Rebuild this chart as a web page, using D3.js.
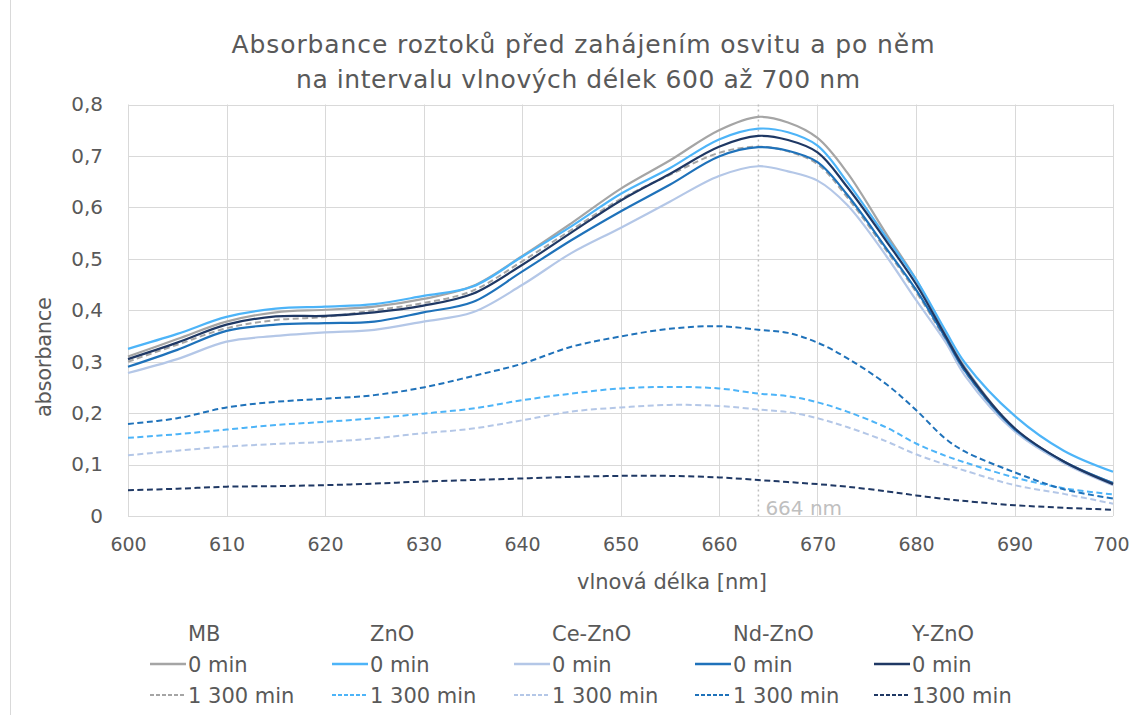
<!DOCTYPE html>
<html><head><meta charset="utf-8">
<script src="https://cdn.jsdelivr.net/npm/d3@7"></script>
<style>
html,body{margin:0;padding:0;background:#fff;}
</style></head>
<body>
<svg id="chart" width="1131" height="715"></svg>
<script>
const wavelengths = [600,605,610,615,620,625,630,635,640,645,650,655,660,664,667,670,673,677,680,683,685,690,695,700];
const mb0    = [.310,.344,.378,.396,.401,.407,.422,.447,.505,.569,.636,.691,.750,.776,.765,.735,.668,.548,.460,.353,.288,.170,.106,.064];
const mb1300 = [.300,.333,.365,.381,.387,.400,.414,.438,.495,.556,.616,.663,.706,.718,.709,.684,.620,.516,.436,.343,.280,.167,.104,.062];
const zno0   = [.325,.354,.387,.403,.407,.412,.428,.446,.504,.563,.626,.676,.732,.753,.746,.720,.650,.541,.460,.360,.297,.195,.127,.086];
const zno1300= [.152,.159,.168,.177,.183,.190,.199,.209,.225,.238,.248,.251,.248,.238,.233,.221,.203,.172,.141,.117,.104,.075,.054,.042];
const ce0    = [.278,.305,.339,.350,.357,.362,.378,.396,.449,.511,.560,.611,.661,.680,.670,.652,.605,.505,.420,.338,.272,.165,.103,.060];
const ce1300 = [.118,.127,.135,.140,.144,.151,.161,.170,.186,.203,.211,.216,.214,.207,.202,.190,.173,.145,.120,.100,.088,.060,.043,.024];
const nd0    = [.290,.323,.360,.372,.375,.378,.396,.416,.475,.536,.592,.644,.699,.717,.710,.688,.625,.520,.440,.346,.281,.169,.106,.064];
const nd1300 = [.179,.190,.211,.222,.228,.235,.250,.272,.296,.329,.349,.364,.369,.362,.356,.337,.307,.256,.206,.150,.125,.085,.052,.034];
const y0     = [.305,.337,.372,.388,.389,.396,.409,.432,.488,.551,.613,.665,.718,.739,.731,.707,.640,.534,.451,.350,.285,.171,.106,.062];
const y1300  = [.050,.053,.057,.058,.060,.063,.067,.070,.073,.076,.078,.078,.075,.070,.066,.062,.057,.048,.040,.033,.029,.021,.016,.012];

const groups = ["MB","ZnO","Ce-ZnO","Nd-ZnO","Y-ZnO"];
const rowLabels0 = ["0 min","0 min","0 min","0 min","0 min"];
const rowLabels1 = ["1 300 min","1 300 min","1 300 min","1 300 min","1300 min"];
const colors = ["#A5A5A5","#4DB4F8","#B4C7E7","#1F72BA","#1F3864"];
const seriesSolid = [mb0,zno0,ce0,nd0,y0];
const seriesDash = [mb1300,zno1300,ce1300,nd1300,y1300];
const xTicks = [600,610,620,630,640,650,660,670,680,690,700];
const yTicks = [0,0.1,0.2,0.3,0.4,0.5,0.6,0.7,0.8];
const peak = 664;
const titleLines = ["Absorbance roztoků před zahájením osvitu a po něm","na intervalu vlnových délek 600 až 700 nm"];

const FONT = "'DejaVu Sans', sans-serif";
const TXT = "#595959";
const svg = d3.select("#chart");
const L = 128, R = 1113, T = 104.5, B = 516;
const x = d3.scaleLinear().domain([600,700]).range([L,R]);
const y = d3.scaleLinear().domain([0,0.8]).range([B,T]);

// outer border
svg.append("line").attr("x1",10.5).attr("x2",10.5).attr("y1",0).attr("y2",715).attr("stroke","#D9D9D9");

// gridlines
const g = svg.append("g");
g.selectAll(".hg").data(yTicks).join("line")
  .attr("x1",L).attr("x2",R).attr("y1",d=>Math.round(y(d))+0.5).attr("y2",d=>Math.round(y(d))+0.5)
  .attr("stroke","#D9D9D9").attr("stroke-width",1);
g.selectAll(".vg").data(xTicks).join("line")
  .attr("y1",T).attr("y2",B).attr("x1",d=>Math.round(x(d))+0.5).attr("x2",d=>Math.round(x(d))+0.5)
  .attr("stroke","#D9D9D9").attr("stroke-width",1);

// axes via d3 (labels only)
const fmt = d => d===0 ? "0" : d3.format(".1f")(d).replace(".",",");
const yAxis = svg.append("g").attr("transform",`translate(${L},0)`)
  .call(d3.axisLeft(y).tickValues(yTicks).tickFormat(fmt).tickSize(0).tickPadding(25));
yAxis.attr("font-family",null).attr("font-size",null);
yAxis.select(".domain").remove();
yAxis.selectAll("text").style("font-family",FONT).style("font-size","20px").style("fill",TXT);
const xAxis = svg.append("g").attr("transform",`translate(0,${B})`)
  .call(d3.axisBottom(x).tickValues(xTicks).tickSize(0).tickPadding(22));
xAxis.attr("font-family",null).attr("font-size",null);
xAxis.select(".domain").remove();
xAxis.selectAll("text").style("font-family",FONT).style("font-size","19px").style("fill",TXT);
xAxis.selectAll("text").filter(d=>d===700).attr("dx","-2");

// peak line
svg.append("line").attr("x1",x(peak)).attr("x2",x(peak)).attr("y1",T).attr("y2",B)
  .attr("stroke","#BFBFBF").attr("stroke-width",1.5).attr("stroke-dasharray","2,3");
svg.append("text").attr("x",x(peak)+7).attr("y",B-1).text(peak+" nm")
  .style("font-family",FONT).style("font-size","20px").style("fill","#BFBFBF");

// series
const line = d3.line().x((d,i)=>x(wavelengths[i])).y(d=>y(d)).curve(d3.curveCatmullRom.alpha(0.5));
const sg = svg.append("g");
for (let k=0;k<5;k++){
  sg.append("path").attr("d",line(seriesSolid[k])).attr("fill","none")
    .attr("stroke",colors[k]).attr("stroke-width",2.2).attr("stroke-linejoin","round");
  sg.append("path").attr("d",line(seriesDash[k])).attr("fill","none")
    .attr("stroke",colors[k]).attr("stroke-width",2).attr("stroke-dasharray","6,3.5");
}

// titles
const tt = svg.append("text").attr("text-anchor","middle")
  .style("font-family",FONT).style("font-size","25px").style("fill",TXT);
tt.append("tspan").attr("x",583).attr("y",53).text(titleLines[0]).attr("textLength",703);
tt.append("tspan").attr("x",578).attr("y",88).text(titleLines[1]).attr("textLength",564);

svg.append("text").attr("x",672).attr("y",589).attr("text-anchor","middle")
  .style("font-family",FONT).style("font-size","21px").style("fill",TXT)
  .attr("textLength",190).text("vlnová délka [nm]");
svg.append("text").attr("transform","translate(51,357) rotate(-90)").attr("text-anchor","middle")
  .style("font-family",FONT).style("font-size","21px").style("fill",TXT)
  .attr("textLength",120).text("absorbance");

// legend
const legX = [188,370,552,733,912];
const lg = svg.append("g").style("font-family",FONT).style("font-size","21px").style("fill",TXT);
groups.forEach((gname,k)=>{
  const tx = legX[k];
  lg.append("text").attr("x",tx).attr("y",641).text(gname);
  lg.append("line").attr("x1",tx-38).attr("x2",tx-2).attr("y1",664).attr("y2",664)
    .attr("stroke",colors[k]).attr("stroke-width",2.5);
  lg.append("text").attr("x",tx).attr("y",672).text(rowLabels0[k]);
  lg.append("line").attr("x1",tx-38).attr("x2",tx-2).attr("y1",695).attr("y2",695)
    .attr("stroke",colors[k]).attr("stroke-width",1.8).attr("stroke-dasharray","4,2");
  lg.append("text").attr("x",tx).attr("y",703).text(rowLabels1[k]);
});
</script>
</body></html>
